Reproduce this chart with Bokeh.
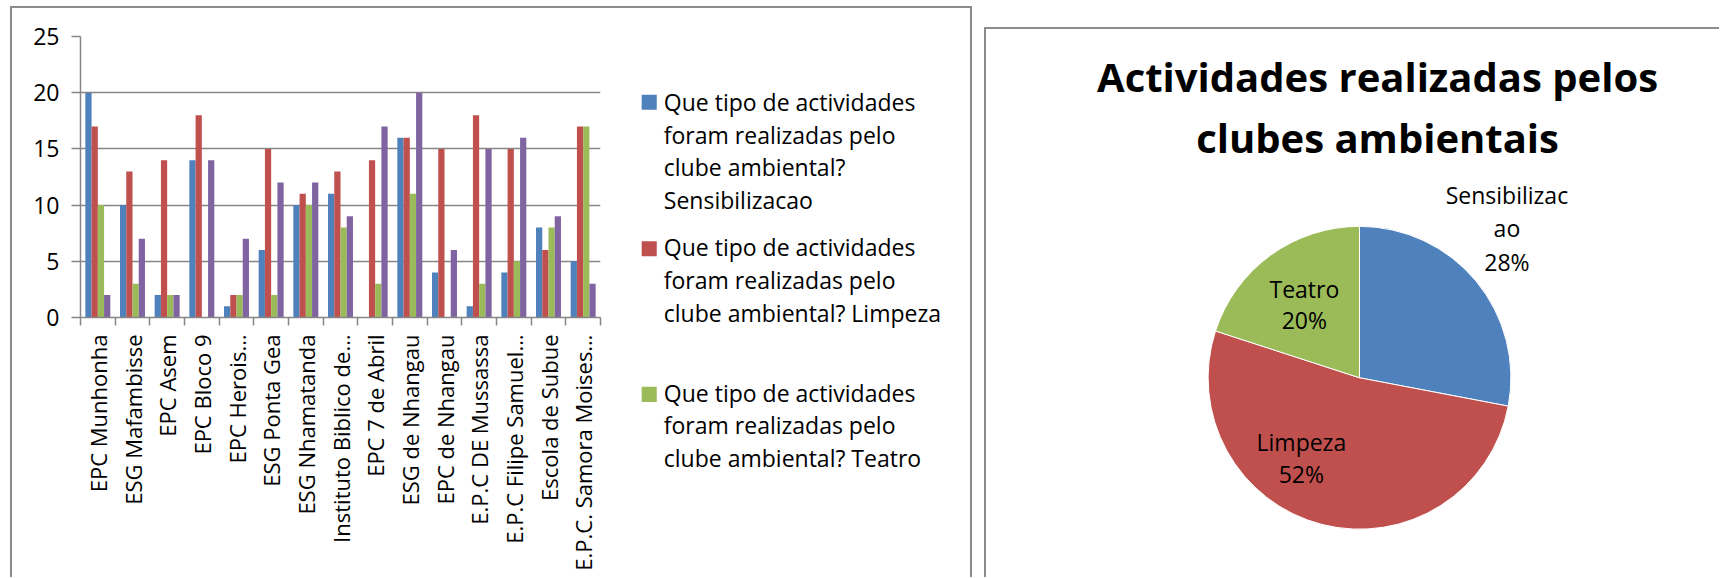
import math
from bokeh.plotting import figure
from bokeh.models import Range1d, FixedTicker, ColumnDataSource
from bokeh.layouts import row
from bokeh.transform import dodge
from bokeh.core.properties import value
from bokeh.embed import file_html
from bokeh.resources import INLINE

# ---------------- data ----------------
schools = ["EPC Munhonha", "ESG Mafambisse", "EPC Asem", "EPC Bloco 9", "EPC Herois…",
           "ESG Ponta Gea", "ESG Nhamatanda", "Instituto Biblico de…", "EPC 7 de Abril",
           "ESG de Nhangau", "EPC de Nhangau", "E.P.C DE Mussassa", "E.P.C Filipe Samuel…",
           "Escola de Subue", "E.P.C. Samora Moises…"]
sensibilizacao = [20, 10, 2, 14, 1, 6, 10, 11, 0, 16, 4, 1, 4, 8, 5]
limpeza = [17, 13, 14, 18, 2, 15, 11, 13, 14, 16, 15, 18, 15, 6, 17]
teatro = [10, 3, 2, 0, 2, 2, 10, 8, 3, 11, 0, 3, 5, 8, 17]
outros = [2, 7, 2, 14, 7, 12, 12, 9, 17, 20, 6, 15, 16, 9, 3]
y_ticks = [0, 5, 10, 15, 20, 25]
legend_labels = [
    "Que tipo de actividades\nforam realizadas pelo\nclube ambiental?\nSensibilizacao",
    "Que tipo de actividades\nforam realizadas pelo\nclube ambiental? Limpeza",
    "Que tipo de actividades\nforam realizadas pelo\nclube ambiental? Teatro",
]
pie_title = "Actividades realizadas pelos\nclubes ambientais"
pie_labels = ["Sensibilizac\nao", "Limpeza", "Teatro"]
pie_shares = [28, 52, 20]

# ---------------- style ----------------
BLUE, RED, GREEN, PURPLE = "#4F81BD", "#C0504D", "#9BBB59", "#8064A2"
GRAY = "#868686"
BOX = "2px solid #8c8c8c"
FONT = "Open Sans"
FS = "23px"

# ---------------- bar chart ----------------
src = ColumnDataSource(dict(idx=list(range(len(schools))), s=sensibilizacao,
                            l=limpeza, t=teatro, o=outros))

# sizes include the 2px CSS border (border-box)
p = figure(width=600, height=571, x_range=Range1d(-0.5, len(schools) - 0.5),
           y_range=Range1d(0, 25), output_backend="svg", toolbar_location=None,
           min_border_left=68, min_border_right=12, min_border_top=28,
           min_border_bottom=262, margin=(6, 0, 0, 10), frame_align=False,
           styles={"border-top": BOX, "border-left": BOX})
p.outline_line_color = None

bw = 0.18
series = [("s", BLUE, -1.5), ("l", RED, -0.5), ("t", GREEN, 0.5), ("o", PURPLE, 1.5)]
for col, color, k in series:
    p.vbar(x=dodge("idx", k * bw, range=p.x_range), top=col, width=bw, source=src,
           fill_color=color, line_color=None)

xa = p.xaxis[0]
xa.ticker = FixedTicker(ticks=list(range(len(schools))),
                        minor_ticks=[i - 0.5 for i in range(len(schools) + 1)])
xa.major_label_overrides = {i: name for i, name in enumerate(schools)}
xa.major_label_orientation = math.pi / 2
xa.major_tick_line_color = None
xa.major_tick_out = 0
xa.major_tick_in = 0
xa.minor_tick_out = 8
xa.minor_tick_in = 0
xa.minor_tick_line_color = GRAY
xa.minor_tick_line_width = 1.5
xa.axis_line_color = GRAY
xa.axis_line_width = 1.5
xa.major_label_standoff = 9
xa.major_label_text_font = FONT
xa.major_label_text_font_size = "22px"
xa.major_label_text_color = "black"

ya = p.yaxis[0]
ya.ticker = FixedTicker(ticks=y_ticks, minor_ticks=[])
ya.major_tick_out = 9
ya.major_tick_in = 0
ya.major_tick_line_color = GRAY
ya.major_tick_line_width = 1.5
ya.axis_line_color = GRAY
ya.axis_line_width = 1.5
ya.major_label_standoff = 12
ya.major_label_text_font = FONT
ya.major_label_text_font_size = FS
ya.major_label_text_color = "black"

p.xgrid.visible = False
p.ygrid.ticker = FixedTicker(ticks=y_ticks)
p.ygrid.grid_line_color = GRAY
p.ygrid.grid_line_width = 1.5

# ---------------- legend panel (right part of the bar-chart box) ----------------
LW, LH = 360, 569
lg = figure(width=LW + 2, height=LH + 2, x_range=Range1d(0, LW), y_range=Range1d(LH, 0),
            output_backend="svg", toolbar_location=None, x_axis_type=None,
            y_axis_type=None, min_border=0, margin=(6, 0, 0, 0), frame_align=False,
            styles={"border-top": BOX, "border-right": BOX})
lg.outline_line_color = None
sq_y = [93.5, 239.5, 384.5]          # square centres (px from top of panel)
txt_y = [142, 270.5, 415.5]          # text-block centres
lsrc = ColumnDataSource(dict(sy=sq_y, ty=txt_y, color=[BLUE, RED, GREEN],
                             label=legend_labels))
lg.rect(x=38.5, y="sy", width=15, height=15, fill_color="color", line_color=None,
        source=lsrc)
lg.text(x=53, y="ty", text="label", source=lsrc, text_align="left",
        text_baseline="middle", text_font=value(FONT), text_font_size=FS,
        text_line_height=1.02, text_color="black")

# ---------------- pie chart ----------------
starts, ends, texts = [], [], []
acc = 0.0
for lab, share in zip(pie_labels, pie_shares):
    starts.append(math.radians(90 - acc * 3.6))
    acc += share
    ends.append(math.radians(90 - acc * 3.6))
    texts.append(f"{lab}\n{share}%")

label_dx = [147, -58, -55]
label_dy = [149, -80, 73]
label_lh = [1.05, 1.02, 0.99]

psrc = ColumnDataSource(dict(start=starts, end=ends, color=[BLUE, RED, GREEN],
                             text=texts, lx=label_dx, ly=label_dy, lh=label_lh))

PW, PH = 733, 548
q = figure(width=PW + 2, height=PH + 2, x_range=Range1d(-372, PW - 372),
           y_range=Range1d(-(PH - 347), 347),
           output_backend="svg", toolbar_location=None, x_axis_type=None,
           y_axis_type=None, min_border=0, margin=(27, 0, 0, 12), frame_align=False,
           styles={"border-top": BOX, "border-left": BOX})
q.outline_line_color = None
q.wedge(x=0, y=0, radius=151, start_angle="start", end_angle="end", direction="clock",
        fill_color="color", line_color="white", line_width=1, source=psrc)
q.text(x="lx", y="ly", text="text", source=psrc, text_align="center",
       text_baseline="middle", text_font=value(FONT), text_font_size=FS,
       text_line_height="lh", text_color="black")
q.text(x=[18], y=[270], text=[pie_title], text_align="center", text_baseline="middle",
       text_font=value(FONT), text_font_style="bold", text_font_size="40px",
       text_line_height=1.1, text_color="black")

layout = row(p, lg, q)
open("out.html", "w").write(file_html(layout, INLINE))
